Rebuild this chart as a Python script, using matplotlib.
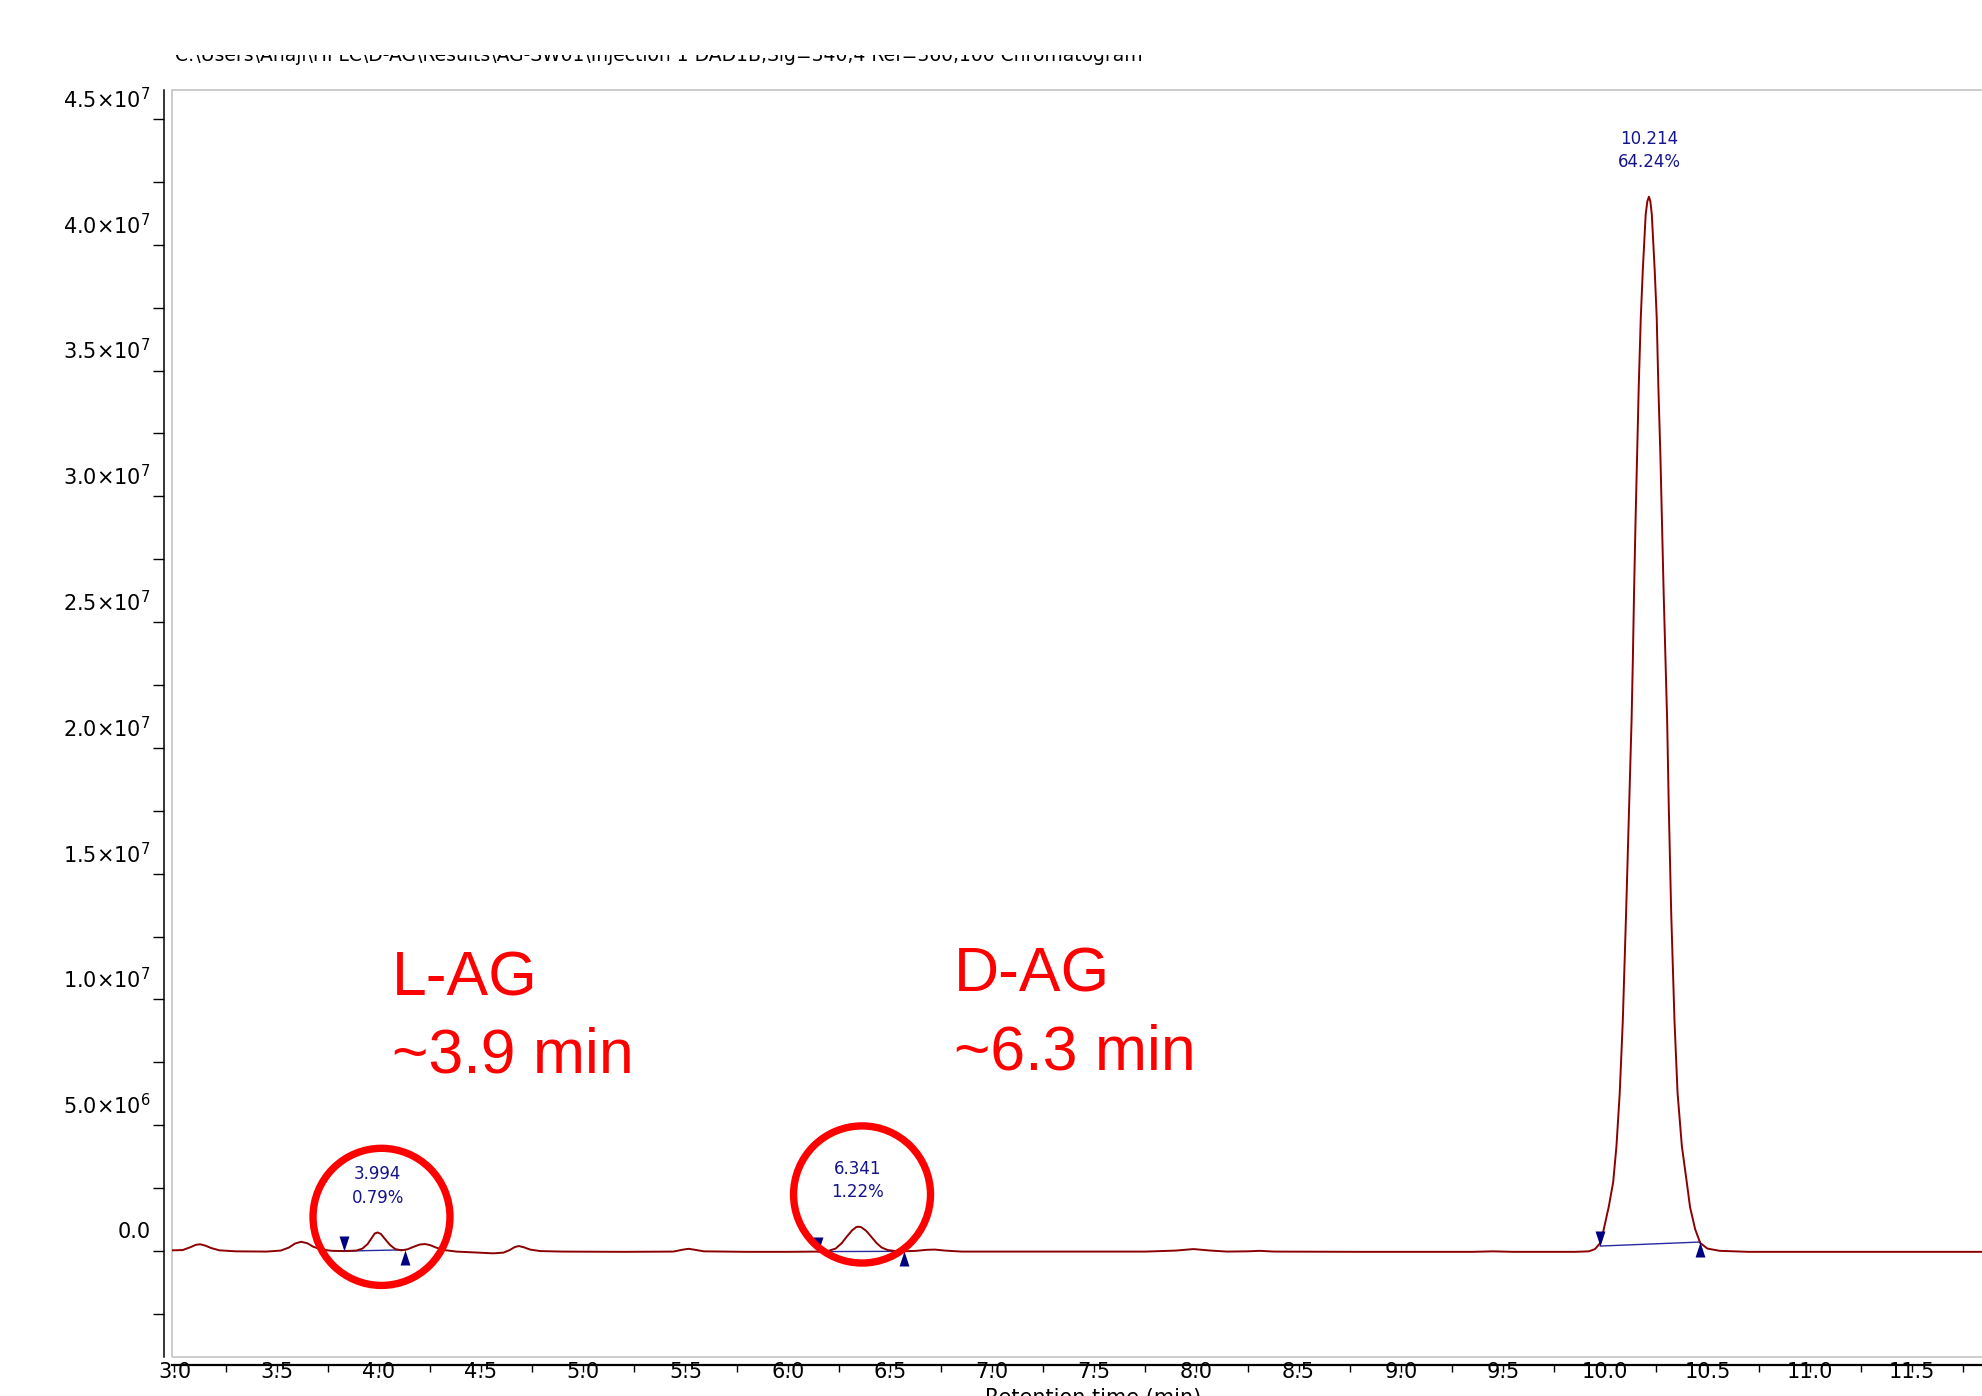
import matplotlib
matplotlib.use("Agg")
import matplotlib.pyplot as plt
import matplotlib.transforms as mtransforms
from matplotlib.patches import Ellipse, Rectangle
from matplotlib.ticker import FixedLocator, MultipleLocator

# ─────────────────────────────────────────────
# Data (time in min, signal in 1e6 units)
# ─────────────────────────────────────────────
time_min = [
    2.988, 3.04, 3.08, 3.105, 3.126, 3.15, 3.18, 3.22, 3.30, 3.45,
    3.52, 3.56, 3.59, 3.62, 3.65, 3.68, 3.72, 3.77, 3.83, 3.89,
    3.92, 3.945, 3.965, 3.98, 3.994, 4.01, 4.03, 4.055, 4.08, 4.11,
    4.14, 4.17, 4.20, 4.225, 4.25, 4.28, 4.32, 4.38, 4.48, 4.56,
    4.61, 4.64, 4.665, 4.685, 4.71, 4.74, 4.79, 4.9, 5.2, 5.44,
    5.49, 5.515, 5.54, 5.59, 5.8, 6.0, 6.147, 6.20, 6.235, 6.265,
    6.29, 6.315, 6.335, 6.346, 6.36, 6.385, 6.41, 6.435, 6.46, 6.49,
    6.53, 6.568, 6.63, 6.68, 6.72, 6.77, 6.85, 7.3, 7.75, 7.9,
    7.985, 8.07, 8.15, 8.25, 8.31, 8.38, 8.8, 9.35, 9.45, 9.55,
    9.85, 9.92, 9.95, 9.976, 9.993, 10.017, 10.039, 10.055, 10.071, 10.086,
    10.102, 10.117, 10.129, 10.135, 10.141, 10.148, 10.156, 10.164, 10.174, 10.184,
    10.198, 10.206, 10.214, 10.221, 10.228, 10.242, 10.252, 10.260, 10.270, 10.278,
    10.286, 10.295, 10.303, 10.311, 10.323, 10.339, 10.354, 10.375, 10.399, 10.415,
    10.440, 10.465, 10.50, 10.56, 10.7, 11.5, 12.0,
]
signal_e6 = [
    0.03, 0.04, 0.16, 0.25, 0.27, 0.22, 0.12, 0.03, -0.01, -0.02,
    0.02, 0.14, 0.30, 0.37, 0.31, 0.17, 0.06, 0.01, 0.00, 0.02,
    0.10, 0.28, 0.52, 0.70, 0.74, 0.68, 0.48, 0.24, 0.08, 0.03,
    0.07, 0.17, 0.26, 0.28, 0.24, 0.14, 0.04, -0.02, -0.06, -0.09,
    -0.06, 0.04, 0.16, 0.20, 0.15, 0.06, 0.00, -0.02, -0.03, -0.02,
    0.06, 0.09, 0.06, -0.01, -0.03, -0.03, -0.02, 0.01, 0.10, 0.32,
    0.58, 0.82, 0.95, 0.97, 0.95, 0.80, 0.56, 0.32, 0.14, 0.04,
    0.00, -0.01, 0.01, 0.05, 0.06, 0.02, -0.02, -0.02, -0.02, 0.02,
    0.08, 0.02, -0.02, -0.01, 0.01, -0.02, -0.03, -0.03, -0.01, -0.03,
    -0.03, -0.01, 0.08, 0.32, 0.87, 1.75, 2.74, 4.17, 6.28, 9.14,
    13.39, 17.65, 21.11, 23.41, 26.14, 28.88, 31.62, 34.36, 37.10, 39.01,
    41.20, 41.72, 41.91, 41.72, 41.20, 39.01, 37.10, 34.36, 31.62, 28.88,
    26.14, 23.41, 21.11, 17.65, 13.39, 9.14, 6.28, 4.17, 2.74, 1.75,
    0.87, 0.32, 0.10, 0.01, -0.03, -0.03, -0.03,
]

# integrated peaks
peak_rt = [3.994, 6.341, 10.214]
peak_area_pct = ["0.79%", "1.22%", "64.24%"]
peak_top_e6 = [0.74, 0.97, 41.91]
base_start = [3.83, 6.147, 9.976]
base_end = [4.13, 6.568, 10.465]
base_start_e6 = [0.00, -0.02, 0.20]
base_end_e6 = [0.05, -0.01, 0.36]

# hand-drawn highlights
enantiomer_names = ["L-AG", "D-AG"]
enantiomer_times = ["~3.9 min", "~6.3 min"]

# axes ticks
y_ticks_e6 = [0, 5, 10, 15, 20, 25, 30, 35, 40, 45]
y_tick_labels = ["0.0", r"$5.0{\times}10^{6}$", r"$1.0{\times}10^{7}$", r"$1.5{\times}10^{7}$",
                 r"$2.0{\times}10^{7}$", r"$2.5{\times}10^{7}$", r"$3.0{\times}10^{7}$",
                 r"$3.5{\times}10^{7}$", r"$4.0{\times}10^{7}$", r"$4.5{\times}10^{7}$"]
x_ticks = [3.0, 3.5, 4.0, 4.5, 5.0, 5.5, 6.0, 6.5, 7.0, 7.5, 8.0, 8.5,
           9.0, 9.5, 10.0, 10.5, 11.0, 11.5]

TITLE = r"C:\Users\Anaji\HPLC\D-AG\Results\AG-SW01\Injection 1 DAD1B,Sig=340,4 Ref=360,100 Chromatogram"

TRACE = "#8b0000"
NAVY = "#000080"
LABEL_BLUE = "#14148c"

plt.rcParams['mathtext.default'] = 'regular'

W, H = 1982, 1396
fig = plt.figure(figsize=(W / 100, H / 100), dpi=100)
ax = fig.add_axes([172 / W, (H - 1357) / H, (2014 - 172) / W, (1357 - 90) / H])
ax.set_xlim(2.988, 12.0)
ax.set_ylim(-4.21e6, 46.15e6)

ax.plot(time_min, [v * 1e6 for v in signal_e6], color=TRACE, lw=1.4, zorder=3)

# baselines + integration markers
down_tri = [(0, 0), (-0.33, 1), (0.33, 1), (0, 0)]
up_tri = [(0, 0), (-0.33, -1), (0.33, -1), (0, 0)]
for i in range(len(peak_rt)):
    ax.plot([base_start[i], base_end[i]], [base_start_e6[i] * 1e6, base_end_e6[i] * 1e6],
            color="#2a2aa0", lw=1.0, zorder=2)
    ax.plot(base_start[i], base_start_e6[i] * 1e6, marker=down_tri, ms=21.6,
            color=NAVY, mew=0, zorder=4)
    ax.plot(base_end[i], base_end_e6[i] * 1e6, marker=up_tri, ms=21.6,
            color=NAVY, mew=0, zorder=4)
    ax.annotate(f"{peak_rt[i]:.3f}\n{peak_area_pct[i]}", xy=(peak_rt[i], peak_top_e6[i] * 1e6),
                xytext=(0, 25.5), textcoords="offset pixels", ha="center", va="bottom",
                fontsize=12, color=LABEL_BLUE, linespacing=1.4, zorder=5)

# red circles and notes
ax.add_patch(Ellipse((4.013, 1.36e6), 0.67, 5.45e6, fill=False, ec="#ff0000", lw=5.3, zorder=6))
ax.add_patch(Ellipse((6.364, 2.25e6), 0.67, 5.45e6, fill=False, ec="#ff0000", lw=5.3, zorder=6))
note_x = [4.065, 6.814]
for i in range(2):
    ax.text(note_x[i], (10.17 + 0.14 * i) * 1e6, enantiomer_names[i], color="#ff0000",
            fontsize=45, family="Liberation Sans", va="baseline", ha="left", zorder=6)
    ax.text(note_x[i], (7.11 + 0.12 * i) * 1e6, enantiomer_times[i], color="#ff0000",
            fontsize=45, family="Liberation Sans", va="baseline", ha="left", zorder=6)

# frame + detached axes
for s in ["top", "right"]:
    ax.spines[s].set_visible(False)
ax.spines["left"].set_position(("outward", 5.8))
ax.spines["bottom"].set_position(("outward", 5.8))
ax.spines["left"].set_linewidth(1.1)
ax.spines["bottom"].set_linewidth(1.6)
ax.add_patch(Rectangle((0, 0), 1, 1, transform=ax.transAxes, fill=False,
                       ec="#c4c4c4", lw=1.2, clip_on=False, zorder=1))

ax.yaxis.set_major_locator(FixedLocator([v * 1e6 for v in y_ticks_e6]))
ax.yaxis.set_minor_locator(MultipleLocator(2.5e6))
ax.set_yticklabels(y_tick_labels)
ax.xaxis.set_major_locator(FixedLocator(x_ticks))
ax.xaxis.set_minor_locator(MultipleLocator(0.25))
ax.set_xticklabels([f"{x:.1f}" for x in x_ticks])
ax.tick_params(axis="y", which="both", direction="out", length=8, width=1.0, pad=1.5, labelsize=15)
ax.tick_params(axis="x", which="both", direction="out", length=5, width=1.0, pad=-7, labelsize=15)

# the software draws the y labels above their ticks
shift = mtransforms.ScaledTranslation(0, 21.5 / 100, fig.dpi_scale_trans)
for t in ax.yaxis.get_major_ticks(len(y_ticks_e6)):
    t.label1.set_transform(t.label1.get_transform() + shift)

ax.set_xlabel("Retention time (min)", fontsize=15)
ax.xaxis.set_label_coords(0.5, (1357 - 1388) / 1267)

# clipped file-path title at the very top
fig.text(175 / W, 1 - 61 / H, TITLE, fontsize=13.5, va="baseline", ha="left")
fig.patches.append(Rectangle((0, 1 - 55 / H), 1, 55 / H, transform=fig.transFigure,
                             facecolor="white", edgecolor="none", zorder=10))

fig.savefig("out.png", dpi=100)
